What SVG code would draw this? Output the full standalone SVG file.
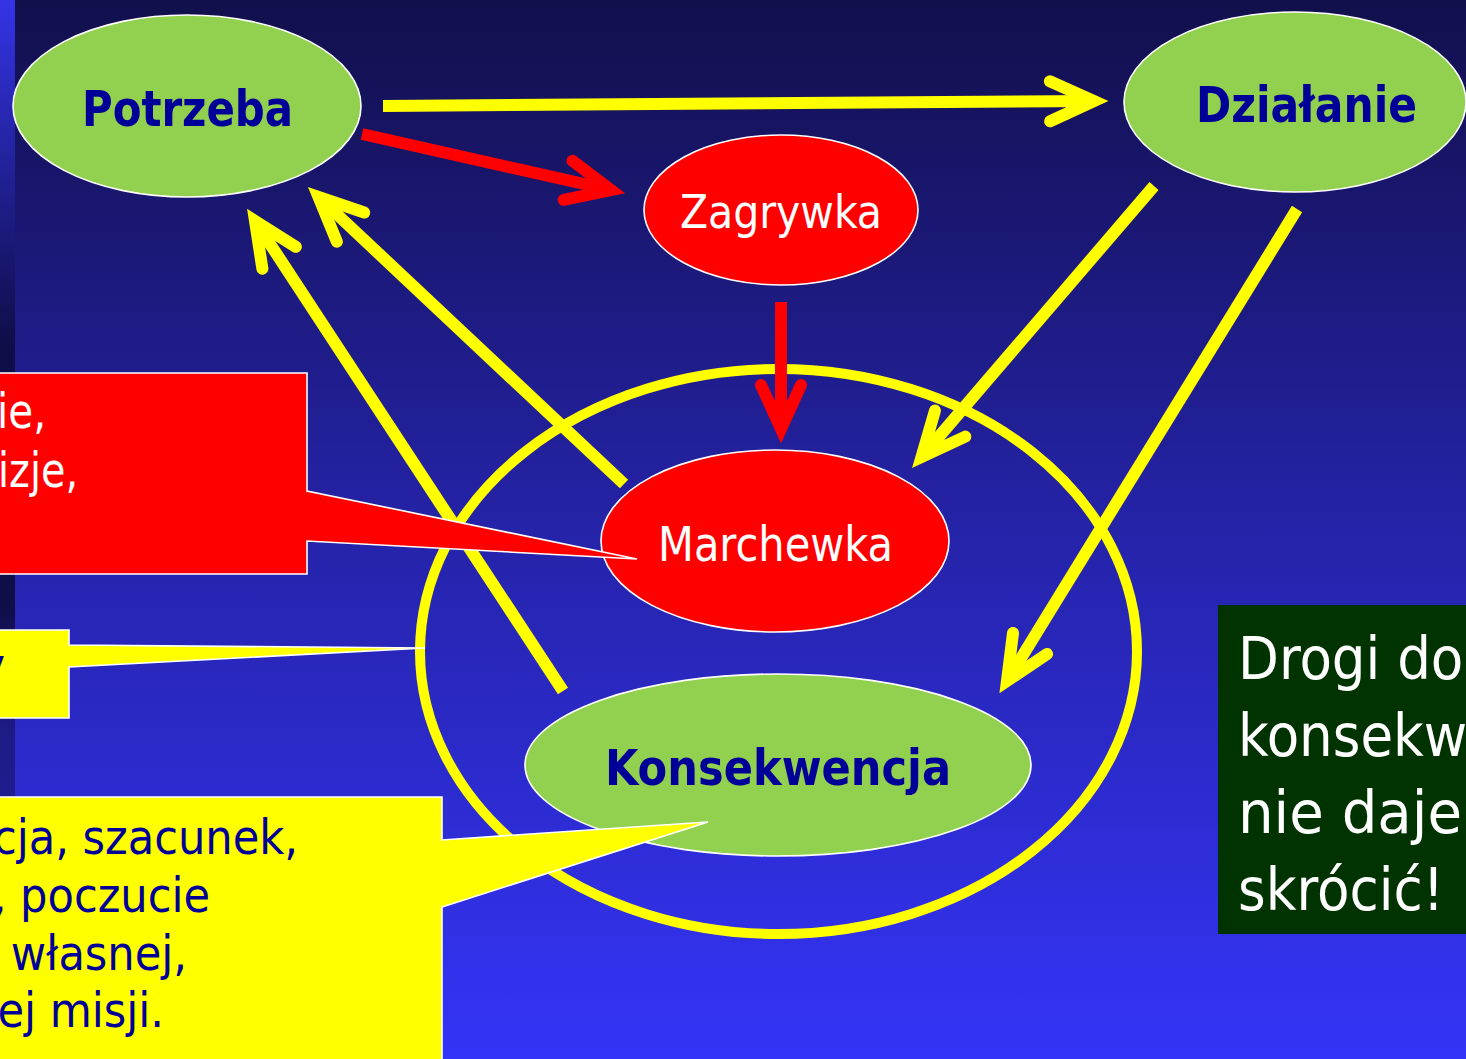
<svg xmlns="http://www.w3.org/2000/svg" width="1466" height="1059" viewBox="0 0 1466 1059">
<style>
.node-g{fill:#92d050;stroke:#ffffff;stroke-width:1.6}
.node-r{fill:#ff0000;stroke:#ffffff;stroke-width:1.6}
.lbl-b{font-family:"DejaVu Sans","Liberation Sans",sans-serif;font-stretch:condensed;font-weight:bold;fill:#000099}
.lbl-w{font-family:"DejaVu Sans","Liberation Sans",sans-serif;font-stretch:condensed;fill:#ffffff}
.txt{font-family:"DejaVu Sans","Liberation Sans",sans-serif;font-stretch:condensed;font-size:48px}
.cy{stroke:#ffff00;stroke-width:12;fill:none;stroke-linecap:butt}
.cr{stroke:#ff0000;stroke-width:12;fill:none;stroke-linecap:butt}
.call{stroke:#ffffff;stroke-width:1.6}
</style>
<defs>
<linearGradient id="bg" x1="0" y1="0" x2="0" y2="1059" gradientUnits="userSpaceOnUse">
<stop offset="0" stop-color="#120f4c"/>
<stop offset="0.5" stop-color="#2523a8"/>
<stop offset="1" stop-color="#3434f8"/>
</linearGradient>
<linearGradient id="strip" x1="0" y1="0" x2="0" y2="1059" gradientUnits="userSpaceOnUse">
<stop offset="0" stop-color="#3434e6"/>
<stop offset="0.33" stop-color="#0e0d45"/>
<stop offset="0.57" stop-color="#0f0e48"/>
<stop offset="0.68" stop-color="#1c1a82"/>
<stop offset="0.75" stop-color="#1f1d8e"/>
<stop offset="1" stop-color="#1f1d8e"/>
</linearGradient>
<marker id="hy" markerUnits="userSpaceOnUse" viewBox="-70 -40 90 80" markerWidth="90" markerHeight="80" refX="0" refY="0" orient="auto" overflow="visible">
<path d="M-44,-20 L0,0 L-44,20" fill="none" stroke="#ffff00" stroke-width="12" stroke-linecap="round" stroke-linejoin="miter"/>
</marker>
<marker id="hr" markerUnits="userSpaceOnUse" viewBox="-70 -40 90 80" markerWidth="90" markerHeight="80" refX="0" refY="0" orient="auto" overflow="visible">
<path d="M-44,-20 L0,0 L-44,20" fill="none" stroke="#ff0000" stroke-width="12" stroke-linecap="round" stroke-linejoin="miter"/>
</marker>
</defs>

<rect x="0" y="0" width="1466" height="1059" fill="url(#bg)"/>
<rect x="0" y="0" width="15" height="1059" fill="url(#strip)"/>

<g id="ring">
<ellipse cx="778.5" cy="651.5" rx="358.5" ry="282.5" fill="none" stroke="#ffff00" stroke-width="10"/>
</g>

<g id="connectors">
<path class="cy" d="M383,106 L1094,101" marker-end="url(#hy)"/>
<path class="cr" d="M362,134 L611,190" marker-end="url(#hr)"/>
<path class="cr" d="M781,302 L781,429" marker-end="url(#hr)"/>
<path class="cy" d="M624,484 L318.5,197" marker-end="url(#hy)"/>
<path class="cy" d="M563,691 L255,221" marker-end="url(#hy)"/>
<path class="cy" d="M1154,186 L921.5,457" marker-end="url(#hy)"/>
<path class="cy" d="M1297,209 L1007,681" marker-end="url(#hy)"/>
</g>

<g id="potrzeba">
<ellipse class="node-g" cx="187" cy="106" rx="174" ry="91"/>
<text class="lbl-b" x="82" y="126" font-size="50" textLength="211" lengthAdjust="spacingAndGlyphs">Potrzeba</text>
</g>
<g id="dzialanie">
<ellipse class="node-g" cx="1295" cy="102" rx="171" ry="90"/>
<text class="lbl-b" x="1196" y="122" font-size="50" textLength="221" lengthAdjust="spacingAndGlyphs">Działanie</text>
</g>
<g id="zagrywka">
<ellipse class="node-r" cx="781" cy="210" rx="137" ry="75"/>
<text class="lbl-w" x="680" y="228" font-size="46" textLength="202" lengthAdjust="spacingAndGlyphs">Zagrywka</text>
</g>
<g id="marchewka">
<ellipse class="node-r" cx="775" cy="541" rx="174" ry="91"/>
<text class="lbl-w" x="658" y="561" font-size="48" textLength="235" lengthAdjust="spacingAndGlyphs">Marchewka</text>
</g>
<g id="konsekwencja">
<ellipse class="node-g" cx="778" cy="765" rx="253" ry="91"/>
<text class="lbl-b" x="605" y="785" font-size="50" textLength="346" lengthAdjust="spacingAndGlyphs">Konsekwencja</text>
</g>

<g id="callout-red">
<polygon class="call" fill="#ff0000" points="-5,373 307,373 307,491 637,559 307,541 307,574 -5,574"/>
<text class="txt" fill="#ffffff" x="-3" y="428" textLength="49" lengthAdjust="spacingAndGlyphs">ie,</text>
<text class="txt" fill="#ffffff" x="-2" y="487" textLength="80" lengthAdjust="spacingAndGlyphs">izje,</text>
</g>
<g id="callout-yellow-1">
<polygon class="call" fill="#ffff00" points="-5,630 69,630 69,645 425,648 69,667 69,718 -5,718"/>
<text class="txt" fill="#000099" text-anchor="end" x="5" y="682">y</text>
</g>
<g id="callout-yellow-2">
<polygon class="call" fill="#ffff00" points="-5,797 442,797 442,840 708,822 442,907 442,1066 -5,1066"/>
<text class="txt" fill="#000099" text-anchor="end" x="298" y="854">cja, szacunek,</text>
<text class="txt" fill="#000099" text-anchor="end" x="210" y="912">, poczucie</text>
<text class="txt" fill="#000099" text-anchor="end" x="187" y="970">własnej,</text>
<text class="txt" fill="#000099" text-anchor="end" x="164" y="1027">ej misji.</text>
</g>

<g id="note">
<rect x="1218" y="605" width="260" height="329" fill="#003300"/>
<text class="lbl-w" x="1238" y="679" font-size="59">Drogi do</text>
<text class="lbl-w" x="1238" y="756" font-size="59">konsekw</text>
<text class="lbl-w" x="1238" y="833" font-size="59" textLength="224" lengthAdjust="spacingAndGlyphs">nie daje</text>
<text class="lbl-w" x="1238" y="910" font-size="59" textLength="206" lengthAdjust="spacingAndGlyphs">skrócić!</text>
</g>
</svg>
